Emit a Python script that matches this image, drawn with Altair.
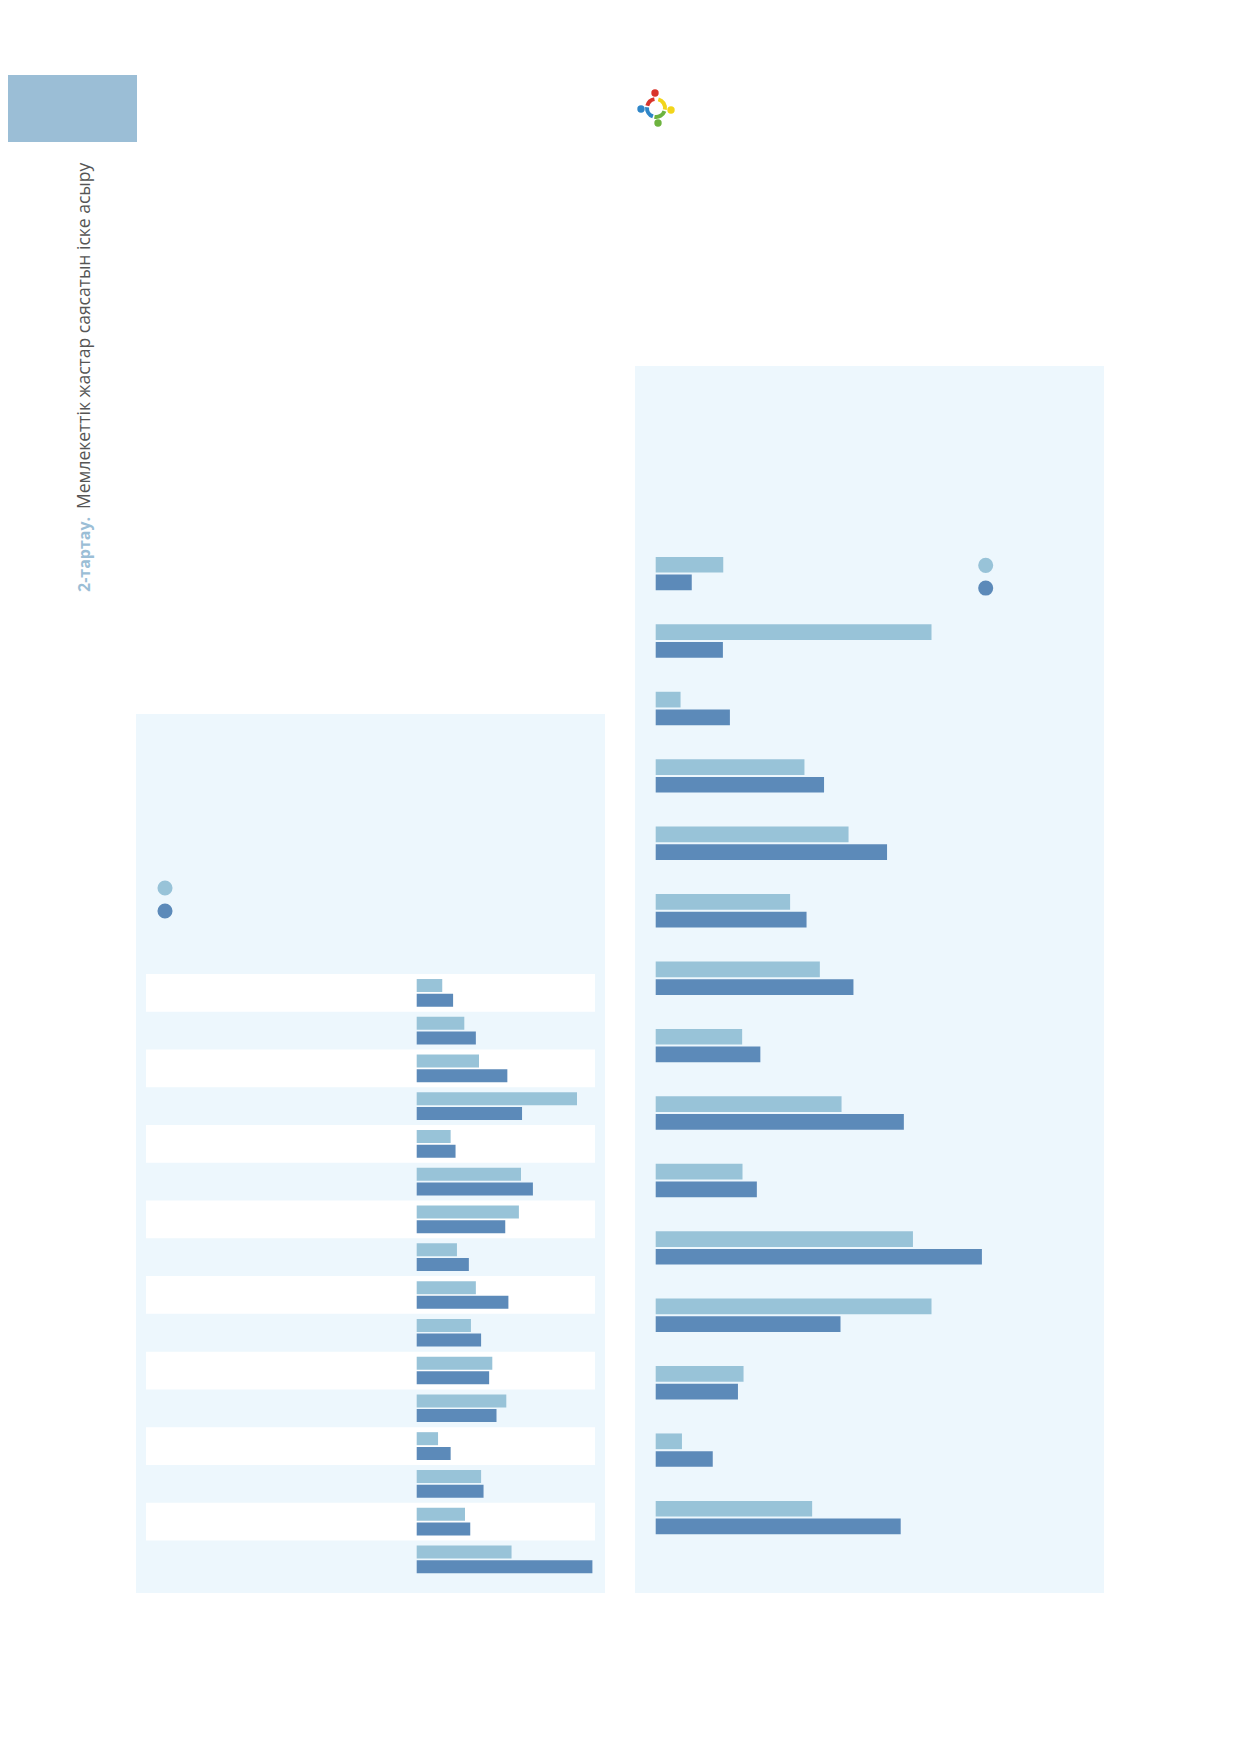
import math
import altair as alt
import pandas as pd

# ---------------- data ----------------
series = ["Series A", "Series B"]

left_rows = [f"L{i:02d}" for i in range(1, 17)]
left_series_a = [7.3, 13.6, 17.8, 45.8, 9.7, 29.8, 29.2, 11.5, 16.9, 15.5, 21.6, 25.6, 6.1, 18.4, 13.8, 27.1]
left_series_b = [10.4, 16.9, 25.9, 30.1, 11.1, 33.2, 25.3, 14.9, 26.2, 18.4, 20.7, 22.8, 9.7, 19.1, 15.3, 50.2]

right_rows = [f"R{i:02d}" for i in range(1, 16)]
right_series_a = [19.3, 78.8, 7.1, 42.5, 55.1, 38.4, 46.9, 24.7, 53.1, 24.8, 73.5, 78.8, 25.1, 7.5, 44.7]
right_series_b = [10.3, 19.2, 21.2, 48.1, 66.1, 43.1, 56.5, 29.9, 70.9, 28.9, 93.2, 52.8, 23.5, 16.3, 70.0]

caption_bold = "2-тартау."
caption_rest = "Мемлекеттік жастар саясатын іске асыру"

# ---------------- styles ----------------
LIGHT = "#98c3d8"
DARK = "#5c8ab9"
PANEL = "#edf7fd"
SIDE = "#9bbed6"
FONT = "Open Sans"


def long_df(rows, a, b):
    recs = []
    for r, va, vb in zip(rows, a, b):
        recs.append({"row": r, "series": series[0], "value": va})
        recs.append({"row": r, "series": series[1], "value": vb})
    return pd.DataFrame(recs)


left_df = long_df(left_rows, left_series_a, left_series_b)
right_df = long_df(right_rows, right_series_a, right_series_b)
series_df = pd.DataFrame({"series": series})
stripe_df = pd.DataFrame({"row": left_rows[0::2]})
one = pd.DataFrame({"k": [0]})

color_scale = alt.Scale(domain=series, range=[LIGHT, DARK])


def deco_rect(x, x2, y, y2, color):
    return alt.Chart(one).mark_rect(color=color).encode(
        x=alt.value(x), x2=alt.value(x2), y=alt.value(y), y2=alt.value(y2)
    )


# ---------------- decorations ----------------
side_block = deco_rect(0, 129, 67, 134, SIDE)
left_panel = deco_rect(128, 597, 706, 1585, PANEL)
right_panel = deco_rect(627, 1096, 358, 1585, PANEL)

# ---------------- left chart ----------------
left_y = alt.Scale(domain=left_rows, range=[966.0, 1570.2], paddingInner=0, paddingOuter=0)

stripes = alt.Chart(stripe_df).mark_rect(color="#ffffff").encode(
    x=alt.value(138),
    x2=alt.value(587),
    y=alt.Y("row:N", scale=left_y, axis=None),
)

left_bars = alt.Chart(left_df).mark_bar().encode(
    x=alt.X("value:Q", scale=alt.Scale(domain=[0, 50], range=[408.7, 583.7], nice=False), axis=None),
    y=alt.Y("row:N", scale=left_y, axis=None),
    yOffset=alt.YOffset("series:N", scale=alt.Scale(domain=series, paddingInner=0.116, paddingOuter=0.342)),
    color=alt.Color("series:N", scale=color_scale, legend=None),
)

left_legend = alt.Chart(series_df).mark_circle(size=227, opacity=1).encode(
    x=alt.value(157),
    y=alt.Y("series:N", scale=alt.Scale(domain=series, range=[868.5, 914.5], paddingInner=0, paddingOuter=0), axis=None),
    color=alt.Color("series:N", scale=color_scale, legend=None),
)

# ---------------- right chart ----------------
right_y = alt.Scale(domain=right_rows, range=[531.9, 1543.3], paddingInner=0, paddingOuter=0)

right_bars = alt.Chart(right_df).mark_bar().encode(
    x=alt.X("value:Q", scale=alt.Scale(domain=[0, 100], range=[647.7, 997.7], nice=False), axis=None),
    y=alt.Y("row:N", scale=right_y, axis=None),
    yOffset=alt.YOffset("series:N", scale=alt.Scale(domain=series, paddingInner=0.113, paddingOuter=0.961)),
    color=alt.Color("series:N", scale=color_scale, legend=None),
)

right_legend = alt.Chart(series_df).mark_circle(size=227, opacity=1).encode(
    x=alt.value(977.7),
    y=alt.Y("series:N", scale=alt.Scale(domain=series, range=[546.0, 591.4], paddingInner=0, paddingOuter=0), axis=None),
    color=alt.Color("series:N", scale=color_scale, legend=None),
)

# ---------------- caption ----------------
cap_bold = alt.Chart(one).mark_text(
    text=caption_bold, angle=270, align="left", baseline="alphabetic",
    font=FONT, fontSize=16, fontWeight="bold", color=SIDE,
).encode(x=alt.value(81.5), y=alt.value(584))

cap_rest = alt.Chart(one).mark_text(
    text=caption_rest, angle=270, align="left", baseline="alphabetic",
    font=FONT, fontSize=17.5, color="#555555",
).encode(x=alt.value(81.5), y=alt.value(501))

# ---------------- logo ----------------
def arc(t0, t1, color):
    return alt.Chart(one).mark_arc(
        radius=11, radius2=7, theta=math.radians(t0), theta2=math.radians(t1), color=color
    ).encode(x=alt.value(648), y=alt.value(100))


def head(x, y, color):
    return alt.Chart(one).mark_circle(size=55, opacity=1, color=color).encode(
        x=alt.value(x), y=alt.value(y)
    )


logo = [
    arc(285, 350, "#d9342b"),
    arc(15, 100, "#f2d51b"),
    arc(110, 190, "#6db33f"),
    arc(200, 275, "#2f86c8"),
    head(647, 85, "#d9342b"),
    head(663, 102, "#f2d51b"),
    head(650, 115, "#6db33f"),
    head(633, 101, "#2f86c8"),
]

chart = alt.layer(
    side_block, left_panel, right_panel,
    stripes, left_bars, left_legend,
    right_bars, right_legend,
    cap_bold, cap_rest,
    *logo,
).resolve_scale(
    x="independent", y="independent", yOffset="independent"
).properties(
    width=1223, height=1736, padding=0,
    autosize=alt.AutoSizeParams(type="none"),
    background="#ffffff",
).configure_view(stroke=None)

chart.save("out.html", embed_options={"renderer": "svg", "actions": False})
